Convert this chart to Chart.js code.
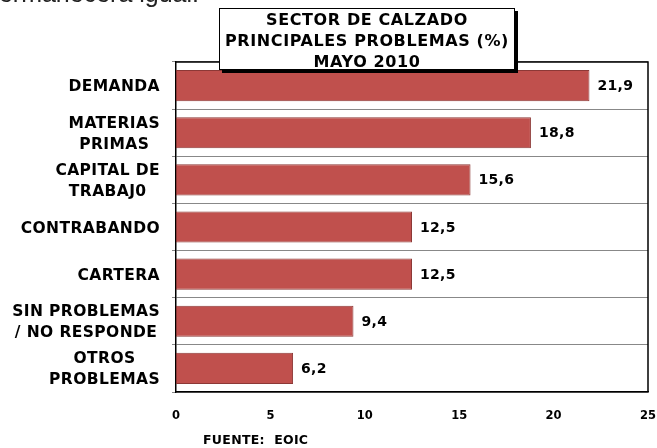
<!DOCTYPE html>
<html>
<head>
<meta charset="utf-8">
<script src="https://cdn.jsdelivr.net/npm/chart.js@4/dist/chart.umd.min.js"></script>
<style>
  body { margin: 0; background: #fff; }
  #wrap { position: relative; width: 657px; height: 448px; overflow: hidden; }
  #top { position: absolute; left: -15px; top: -19px; font: 25px/25px "Liberation Sans", Arial, sans-serif; color: #222; white-space: nowrap; }
  #titlebox { position: absolute; left: 219px; top: 8px; width: 294px; height: 60px; background: #fff;
    border: 1.5px solid #000; box-shadow: 3px 3px 0 #000; text-align: center;
    font: bold 16px "DejaVu Sans", Verdana, sans-serif; letter-spacing: 0.6px; line-height: 21px; padding-top: 0px; }
  #fuente { position: absolute; left: 203px; top: 432px; font: bold 12.5px "DejaVu Sans", Verdana, sans-serif; letter-spacing: 0.3px; white-space: pre; }
</style>
</head>
<body>
<div id="wrap">
  <canvas id="chart" width="657" height="448"></canvas>
  <div id="top">permanecerá igual.</div>
  <div id="titlebox">SECTOR DE CALZADO<br>PRINCIPALES PROBLEMAS (%)<br>MAYO 2010</div>
  <div id="fuente">FUENTE:  EOIC</div>
</div>
<script>
// data
const categorias = [
  ["DEMANDA"],
  ["MATERIAS", "PRIMAS"],
  ["CAPITAL DE", "TRABAJ0"],
  ["CONTRABANDO"],
  ["CARTERA"],
  ["SIN PROBLEMAS", "/ NO RESPONDE"],
  ["OTROS", "PROBLEMAS"]
];
const valores = [21.9, 18.8, 15.6, 12.5, 12.5, 9.4, 6.2];
const ejeMin = 0, ejeMax = 25, paso = 5;

const ctx = document.getElementById("chart").getContext('2d');

// value labels, category labels + frame
const extras = {
  id: 'extras',
  afterDatasetsDraw(chart) {
    const c = chart.ctx;
    const a = chart.chartArea;
    c.save();
    c.strokeStyle = "#000";
    c.lineWidth = 1.5;
    c.beginPath();
    c.moveTo(a.left, a.top);
    c.lineTo(a.right, a.top);
    c.lineTo(a.right, a.bottom);
    c.stroke();
    c.fillStyle = "#000";
    c.textBaseline = "middle";
    // numbers at bar ends
    c.font = "bold 14px 'DejaVu Sans', Verdana, sans-serif";
    c.letterSpacing = "0.3px";
    c.textAlign = "left";
    chart.getDatasetMeta(0).data.forEach((bar, i) => {
      c.fillText(valores[i].toFixed(1).replace(".", ","), bar.x + 8, bar.y + 1);
    });
    // category labels, lines centred on each other
    const ys = chart.scales.y;
    c.font = "bold 15.5px 'DejaVu Sans', Verdana, sans-serif";
    c.letterSpacing = "0.4px";
    c.textAlign = "center";
    categorias.forEach((lines, i) => {
      const yc = ys.getPixelForValue(i) + 1.5;
      let w = 0;
      lines.forEach(t => { w = Math.max(w, c.measureText(t).width); });
      const xc = a.left - 16 - w / 2;
      lines.forEach((t, k) => {
        c.fillText(t, xc, yc + (k - (lines.length - 1) / 2) * 21);
      });
    });
    c.restore();
  }
};

const grafico = new Chart(ctx, {
  type: "bar",
  data: {
    labels: categorias,
    datasets: [{
      data: valores,
      backgroundColor: "#C0504D",
      borderColor: "#8C3836",
      borderWidth: 1,
      borderSkipped: false,
      categoryPercentage: 0.66,
      barPercentage: 1
    }]
  },
  options: {
    indexAxis: 'y',
    responsive: false,
    animation: false,
    layout: { padding: { top: 62, right: 9, left: 0, bottom: 0 } },
    plugins: { legend: { display: false }, tooltip: { enabled: false } },
    scales: {
      x: {
        min: ejeMin, max: ejeMax,
        ticks: { stepSize: paso, color: "#000", padding: 9,
          font: { family: "DejaVu Sans", weight: "bold", size: 11.5 } },
        grid: { display: false },
        border: { color: "#000", width: 1.5 },
        afterFit(s) { s.height = 56; s.paddingRight = 0; s.paddingLeft = 0; }
      },
      y: {
        ticks: { display: false },
        grid: { color: "#888", lineWidth: 1, tickLength: 4, offset: true },
        border: { color: "#000", width: 1.5 },
        afterFit(s) { s.width = 176; }
      }
    }
  },
  plugins: [extras]
});
</script>
</body>
</html>
